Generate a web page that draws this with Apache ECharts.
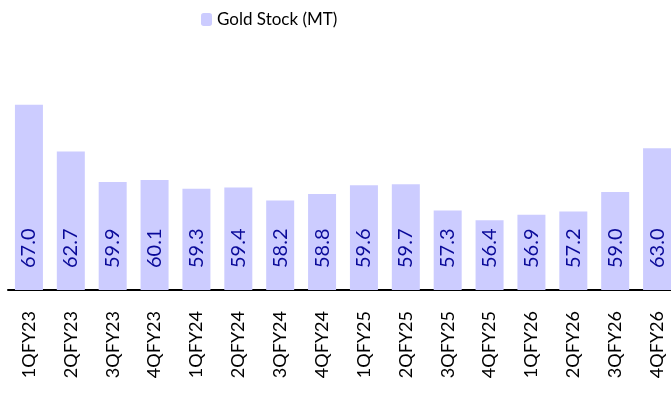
<!DOCTYPE html>
<html>
<head>
<meta charset="utf-8">
<script src="https://cdn.jsdelivr.net/npm/echarts@6/dist/echarts.min.js"></script>
<style>
  html, body { margin: 0; padding: 0; background: #fff; }
  #chart { width: 671px; height: 400px; }
</style>
</head>
<body>
<div id="chart"></div>
<script>
const quarters = ['1QFY23', '2QFY23', '3QFY23', '4QFY23', '1QFY24', '2QFY24', '3QFY24', '4QFY24',
  '1QFY25', '2QFY25', '3QFY25', '4QFY25', '1QFY26', '2QFY26', '3QFY26', '4QFY26']
const goldStock = [67.0, 62.7, 59.9, 60.1, 59.3, 59.4, 58.2, 58.8, 59.6, 59.7, 57.3, 56.4, 56.9, 57.2, 59.0, 63.0]
const seriesName = 'Gold Stock (MT)'

const chart = echarts.init(document.getElementById('chart'))
chart.setOption({
  animation: false,
  textStyle: { fontFamily: 'Lato' },
  legend: {
    data: [seriesName],
    left: 196,
    top: 6,
    itemWidth: 11,
    itemHeight: 13,
    itemGap: 4,
    textStyle: { fontSize: 17, color: '#000', fontFamily: 'Lato' }
  },
  grid: {
    left: 8,
    right: -7,
    top: 72,
    bottom: 110,
    outerBoundsMode: 'none'
  },
  xAxis: {
    type: 'category',
    data: quarters,
    axisLine: { lineStyle: { color: '#000', width: 2 } },
    axisTick: { show: false },
    axisLabel: {
      rotate: 90,
      margin: 21,
      interval: 0,
      color: '#000',
      fontSize: 18,
      fontFamily: 'Lato'
    }
  },
  yAxis: {
    type: 'value',
    min: 50,
    max: 70,
    show: false,
    splitLine: { show: false }
  },
  series: [{
    name: seriesName,
    type: 'bar',
    data: goldStock,
    barWidth: 28,
    itemStyle: { color: '#ccccff' },
    label: {
      show: true,
      position: 'insideBottom',
      rotate: 90,
      align: 'left',
      verticalAlign: 'middle',
      distance: 22,
      color: '#0a0a99',
      fontSize: 20,
      fontFamily: 'Lato',
      formatter: p => p.value.toFixed(1)
    }
  }]
})
</script>
</body>
</html>
